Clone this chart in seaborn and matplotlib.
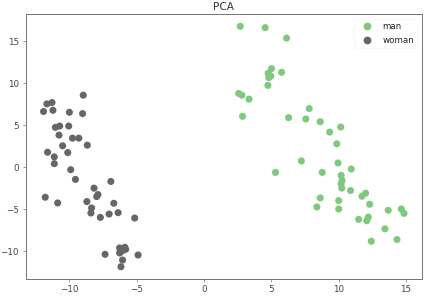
import pandas as pd
import matplotlib
matplotlib.use("Agg")
import matplotlib.pyplot as plt
import seaborn as sns

man_x = [2.70, 4.55, 6.14, 5.02, 5.77, 4.77, 4.97, 4.82, 4.75, 2.58, 2.82, 3.35, 2.87,
         6.29, 7.82, 7.57, 8.64, 10.16, 9.34, 9.87, 7.24, 9.96, 10.94, 5.32, 8.79, 10.19,
         10.26, 10.19, 10.24, 10.89, 12.01, 11.74, 8.64, 10.01, 12.31, 8.39, 10.01, 13.69,
         14.66, 14.86, 11.49, 12.21, 12.09, 13.44, 12.43, 14.34]
man_y = [16.8, 16.64, 15.4, 11.76, 11.32, 11.2, 10.88, 10.68, 9.76, 8.8, 8.6, 8.12, 6.08,
         5.92, 7.0, 5.76, 5.44, 4.8, 4.2, 2.8, 0.76, 0.52, -0.2, -0.6, -0.6, -0.96,
         -1.56, -1.96, -2.48, -2.76, -3.08, -3.44, -3.64, -3.96, -4.4, -4.72, -4.96, -5.12,
         -4.96, -5.48, -6.2, -5.92, -6.36, -7.32, -8.8, -8.6]

woman_x = [-8.96, -11.66, -11.28, -11.91, -11.21, -9.99, -9.01, -11.03, -10.71, -10.04,
           -10.76, -9.76, -9.29, -10.49, -8.66, -11.61, -10.11, -11.11, -11.11, -9.89,
           -9.54, -6.91, -8.16, -7.87, -7.96, -11.78, -10.86, -8.69, -6.69, -8.34, -8.39,
           -7.69, -7.04, -6.37, -5.14, -7.34, -6.26, -5.87, -6.01, -6.19, -5.81, -6.26,
           -4.89, -6.04, -6.16]
woman_y = [8.6, 7.56, 7.72, 6.65, 6.8, 6.56, 6.4, 4.76, 4.92, 4.92,
           3.84, 3.48, 3.48, 2.57, 2.64, 1.8, 1.76, 1.25, 0.44, -0.28,
           -1.44, -1.68, -2.48, -3.24, -3.48, -3.56, -4.24, -4.08, -4.28, -4.84, -5.44,
           -5.96, -5.56, -5.4, -6.04, -10.36, -9.6, -9.52, -9.88, -10.08, -9.76, -10.2,
           -10.44, -11.04, -11.84]

labels = ["man", "woman"]
colors = ["#7fc97f", "#666666"]

df = pd.DataFrame({
    "x": man_x + woman_x,
    "y": man_y + woman_y,
    "label": [labels[0]] * len(man_x) + [labels[1]] * len(woman_x),
})

sns.set_style("ticks")
plt.rcParams["font.family"] = ["DejaVu Sans"]

fig = plt.figure(figsize=(425 / 72, 304 / 72), dpi=72)
ax = fig.add_axes([0.06, 0.083, 0.933, 0.87])
sns.scatterplot(data=df, x="x", y="y", hue="label", hue_order=labels,
                palette=colors, s=50, linewidth=0, ax=ax)

ax.set_title("PCA", fontsize=10.5, color="#333333", pad=4)
ax.set_xlabel("")
ax.set_ylabel("")
ax.set_xticks([-10, -5, 0, 5, 10, 15])
ax.set_yticks([-10, -5, 0, 5, 10, 15])
ax.tick_params(labelsize=8.8, colors="#444444", length=3, color="#888888")
for sp in ax.spines.values():
    sp.set_color("#777777")
    sp.set_linewidth(1)

ax.legend(loc="upper right", fontsize=8.8, frameon=True, framealpha=0.8,
          edgecolor="#f7f7f7", handletextpad=0.8, markerscale=1.1)

fig.savefig("out.png", dpi=72)
